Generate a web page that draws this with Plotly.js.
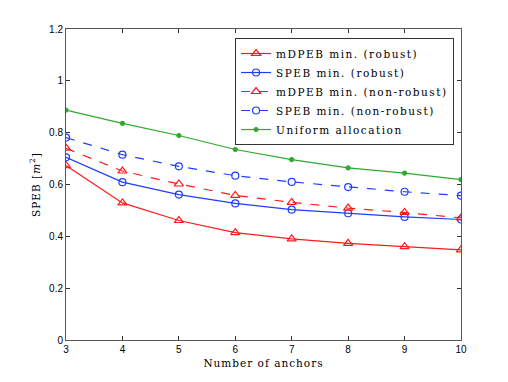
<!DOCTYPE html>
<html>
<head>
<meta charset="utf-8">
<script src="https://cdn.plot.ly/plotly-3.0.1.min.js"></script>
<style>
  body { margin: 0; background: #fff; }
  #chart { width: 508px; height: 382px; }
  .legendtext { letter-spacing: 1.5px; }
  .xtitle, .ytitle { letter-spacing: 1px; }
</style>
</head>
<body>
<div id="chart"></div>
<script>
// number of anchors
const anchors = [3, 4, 5, 6, 7, 8, 9, 10];

// SPEB values
const mdpebRobust    = [0.673, 0.529, 0.461, 0.414, 0.390, 0.373, 0.360, 0.348];
const spebRobust     = [0.705, 0.609, 0.561, 0.527, 0.503, 0.489, 0.475, 0.465];
const mdpebNonRobust = [0.740, 0.652, 0.602, 0.558, 0.531, 0.509, 0.492, 0.471];
const spebNonRobust  = [0.781, 0.715, 0.670, 0.634, 0.610, 0.590, 0.572, 0.557];
const uniformAlloc   = [0.887, 0.836, 0.789, 0.735, 0.696, 0.664, 0.644, 0.619];

const seriesNames = [
  'mDPEB min. (robust)',
  'SPEB min. (robust)',
  'mDPEB min. (non-robust)',
  'SPEB min. (non-robust)',
  'Uniform allocation'
];

const yTicks = [0, 0.2, 0.4, 0.6, 0.8, 1, 1.2];

const red = '#ff1a1a';
const blue = '#1f3dff';
const green = '#2eaa2e';

function makeTrace(y, name, color, dash, symbol, size) {
  return {
    x: anchors,
    y: y,
    name: name,
    mode: 'lines+markers',
    line: { color: color, width: 1.2, dash: dash },
    marker: { symbol: symbol, size: size, color: color, line: { color: color, width: 1.2 } }
  };
}

const traces = [
  makeTrace(mdpebRobust, seriesNames[0], red, 'solid', 'triangle-up-open', 8),
  makeTrace(spebRobust, seriesNames[1], blue, 'solid', 'circle-open', 7),
  makeTrace(mdpebNonRobust, seriesNames[2], red, 'dash', 'triangle-up-open', 8),
  makeTrace(spebNonRobust, seriesNames[3], blue, 'dash', 'circle-open', 7),
  makeTrace(uniformAlloc, seriesNames[4], green, 'solid', 'circle', 4)
];

const tickFont = { family: 'Liberation Sans, Arial, sans-serif', size: 10, color: '#000' };
const serifFont = { family: 'DejaVu Serif, Liberation Serif, serif', size: 10.5, color: '#000' };

const layout = {
  width: 508,
  height: 382,
  margin: { l: 66, r: 47, t: 29, b: 42 },
  paper_bgcolor: '#fff',
  plot_bgcolor: '#fff',
  showlegend: true,
  xaxis: {
    range: [3, 10],
    tickvals: anchors,
    ticks: 'inside',
    ticklen: 4,
    tickcolor: '#333',
    showgrid: false,
    zeroline: false,
    showline: true,
    linecolor: '#555',
    linewidth: 1,
    mirror: 'ticks',
    tickfont: tickFont,
    title: { text: 'Number of anchors', font: serifFont, standoff: 5 }
  },
  yaxis: {
    range: [0, 1.2],
    tickvals: yTicks,
    ticktext: yTicks.map(String),
    ticks: 'inside',
    ticklen: 4,
    tickcolor: '#333',
    showgrid: false,
    zeroline: false,
    showline: true,
    linecolor: '#555',
    linewidth: 1,
    mirror: 'ticks',
    tickfont: tickFont,
    title: { text: 'SPEB [<i>m</i><sup>2</sup>]', font: serifFont, standoff: 6 }
  },
  legend: {
    x: 0.428,
    y: 0.971,
    xanchor: 'left',
    yanchor: 'top',
    bgcolor: '#fff',
    bordercolor: '#333',
    borderwidth: 1,
    itemwidth: 30,
    font: serifFont,
    tracegroupgap: 0
  }
};

Plotly.newPlot('chart', traces, layout, { displayModeBar: false, staticPlot: true });
</script>
</body>
</html>
